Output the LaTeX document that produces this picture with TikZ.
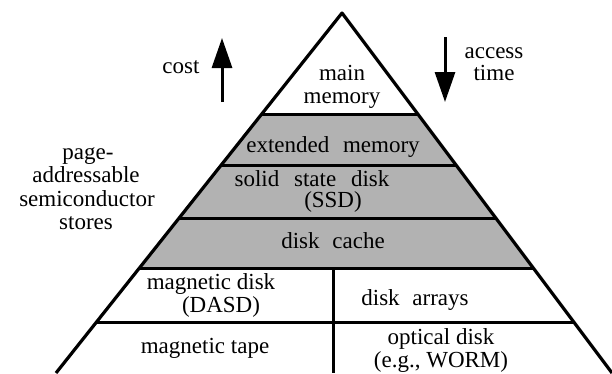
\documentclass[tikz,border=0pt]{standalone}
\usepackage{fontspec}
\setmainfont{Liberation Serif}
\usetikzlibrary{arrows.meta}
\begin{document}
\begin{tikzpicture}[x=1pt,y=-1pt,
  lbl/.style={font=\fontsize{23}{20}\selectfont, inner sep=0pt, anchor=base},
  edgeline/.style={line width=3.2pt, line join=round},
  levelline/.style={line width=3pt},
  stipple/.style={fill=black!30},
  bigarrow/.style={line width=3pt, -{Triangle[length=30pt,width=20pt]}}]
\path[use as bounding box] (0,0) rectangle (612,373);
% pyramid corners and level points
\coordinate (apex) at (342,13);
\coordinate (bl) at (56,373);
\coordinate (br) at (612,373);
\coordinate (l1) at (261.7,114); \coordinate (r1) at (417.8,114);
\coordinate (l2) at (221.2,165); \coordinate (r2) at (456,165);
\coordinate (l3) at (179,218);   \coordinate (r3) at (495.8,218);
\coordinate (l4) at (139.3,268); \coordinate (r4) at (533.3,268);
\coordinate (l5) at (96.3,322);  \coordinate (r5) at (573.8,322);
\coordinate (m4) at (333,268);   \coordinate (m6) at (333,373);
% shaded semiconductor band
\fill[stipple] (l1) -- (r1) -- (r4) -- (l4) -- cycle;
% level separators
\draw[levelline] (l1) -- (r1);
\draw[levelline] (l2) -- (r2);
\draw[levelline] (l3) -- (r3);
\draw[levelline] (l4) -- (r4);
\draw[levelline] (l5) -- (r5);
\draw[levelline] (m4) -- (m6);
% outline
\draw[edgeline] (bl) -- (apex) -- (br);
% arrows
\coordinate (costtail) at (222,102); \coordinate (costtip) at (222,38);
\coordinate (acctail) at (445,37);   \coordinate (acctip) at (445,102);
\draw[bigarrow] (costtail) -- (costtip);
\draw[bigarrow] (acctail) -- (acctip);
% labels
\node[lbl] (cost) at (181,73) {cost};
\node[lbl] (access) at (494,58) {access};
\node[lbl] (time) at (494,80) {time};
\node[lbl] (main) at (342,80) {main};
\node[lbl] (memory) at (342,103) {memory};
\node[lbl] (page) at (88,159) {page-};
\node[lbl] (addr) at (86,182) {addressable};
\node[lbl] (semi) at (87,206) {semiconductor};
\node[lbl] (stores) at (86,229) {stores};
\node[lbl] (ext) at (333,152) {extended\hspace{8pt} memory};
\node[lbl] (ssd) at (312,186) {solid\hspace{9pt} state\hspace{9pt} disk};
\node[lbl] (ssdabbr) at (333,207) {(SSD)};
\node[lbl] (cache) at (333,248) {disk\hspace{7pt} cache};
\node[lbl] (magdisk) at (211,289) {magnetic disk};
\node[lbl] (dasd) at (221,312) {(DASD)};
\node[lbl] (arrays) at (415,305) {disk\hspace{7pt} arrays};
\node[lbl] (tape) at (205,353) {magnetic tape};
\node[lbl] (optical) at (441,344) {optical disk};
\node[lbl] (worm) at (441,367) {(e.g., WORM)};
\end{tikzpicture}
\end{document}
